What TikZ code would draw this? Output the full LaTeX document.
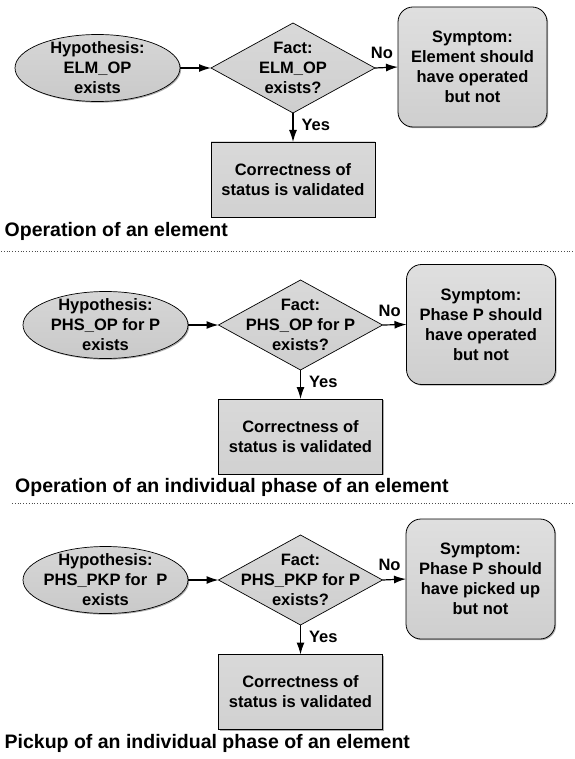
\documentclass[tikz,border=0pt]{standalone}
\usepackage{fontspec}
\setmainfont{Liberation Sans}
\usetikzlibrary{shapes.geometric,arrows.meta,shadows}

\tikzset{
  txt/.style={font=\fontsize{16.5}{20}\selectfont\bfseries, align=center, inner sep=0pt},
  shadowed/.style={drop shadow={shadow xshift=1.2pt,shadow yshift=-1.2pt,opacity=0.45,fill=black!70}},
  hyp/.style={ellipse, draw=black, line width=0.7pt, minimum width=165pt, minimum height=67pt,
    inner sep=0pt, outer sep=0pt, top color=gray!32, middle color=gray!6, bottom color=gray!42, shadowed},
  fact/.style={diamond, draw=black, line width=0.7pt, minimum width=164pt, minimum height=90pt,
    inner sep=0pt, outer sep=0pt, top color=gray!30, middle color=gray!20, bottom color=gray!38},
  symp/.style={txt, rectangle, rounded corners=15pt, draw=black, line width=0.8pt, minimum width=149pt,
    minimum height=120pt, outer sep=0pt, top color=gray!25, middle color=gray!4, bottom color=gray!38, shadowed},
  valid/.style={txt, rectangle, draw=black, line width=0.7pt, minimum width=164pt, minimum height=75pt,
    outer sep=0pt, top color=gray!30, middle color=gray!10, bottom color=gray!36, shadowed},
  flow/.style={-{Latex[length=12pt,width=8pt]}, line width=1.2pt},
  nolbl/.style={txt, pos=0.3, above=8pt},
  yeslbl/.style={txt, pos=0.42, right=8pt},
  caption/.style={font=\fontsize{19.5}{23}\selectfont\bfseries, anchor=west, inner sep=0pt},
  sep/.style={dotted, line width=0.8pt, black!70}
}

\begin{document}
\begin{tikzpicture}[x=1pt,y=-1pt]
\useasboundingbox (0,0) rectangle (574,759);

% ---- Operation of an element ----
\node[hyp, label={[txt]center:Hypothesis:\\ELM\_OP\\exists}] (h1) at (97.5,68) {};
\node[fact, label={[txt]center:Fact:\\ELM\_OP\\exists?}] (f1) at (293,68) {};
\node[symp] (s1) at (472.5,67) {Symptom:\\Element should\\have operated\\but not};
\node[valid] (v1) at (293,179.5) {Correctness of\\status is validated};
\draw[flow] (h1.east) -- (f1.west);
\draw[flow] (f1.east) -- node[nolbl] (no1) {No} (s1.west);
\draw[flow] (f1.south) -- node[yeslbl] (yes1) {Yes} (v1.north);
\node[caption] (c1) at (4.5,231) {Operation of an element};
\coordinate (l1a) at (1,251);
\coordinate (l1b) at (573,251);
\draw[sep] (l1a) -- (l1b);

% ---- Operation of an individual phase ----
\node[hyp, label={[txt]center:Hypothesis:\\PHS\_OP for P\\exists}] (h2) at (105.5,325) {};
\node[fact, label={[txt]center:Fact:\\PHS\_OP for P\\exists?}] (f2) at (300.5,325) {};
\node[symp] (s2) at (481,324.5) {Symptom:\\Phase P should\\have operated\\but not};
\node[valid] (v2) at (300.5,436.5) {Correctness of\\status is validated};
\draw[flow] (h2.east) -- (f2.west);
\draw[flow] (f2.east) -- node[nolbl] (no2) {No} (s2.west);
\draw[flow] (f2.south) -- node[yeslbl] (yes2) {Yes} (v2.north);
\node[caption] (c2) at (15,487) {Operation of an individual phase of an element};
\coordinate (l2a) at (12,503);
\coordinate (l2b) at (573,503);
\draw[sep] (l2a) -- (l2b);

% ---- Pickup of an individual phase ----
\node[hyp, label={[txt]center:Hypothesis:\\PHS\_PKP for~~P\\exists}] (h3) at (105.5,580) {};
\node[fact, label={[txt]center:Fact:\\PHS\_PKP for P\\exists?}] (f3) at (300.5,580) {};
\node[symp] (s3) at (480.5,579) {Symptom:\\Phase P should\\have picked up\\but not};
\node[valid] (v3) at (300.5,692) {Correctness of\\status is validated};
\draw[flow] (h3.east) -- (f3.west);
\draw[flow] (f3.east) -- node[nolbl] (no3) {No} (s3.west);
\draw[flow] (f3.south) -- node[yeslbl] (yes3) {Yes} (v3.north);
\node[caption] (c3) at (4.5,743) {Pickup of an individual phase of an element};
\end{tikzpicture}
\end{document}
